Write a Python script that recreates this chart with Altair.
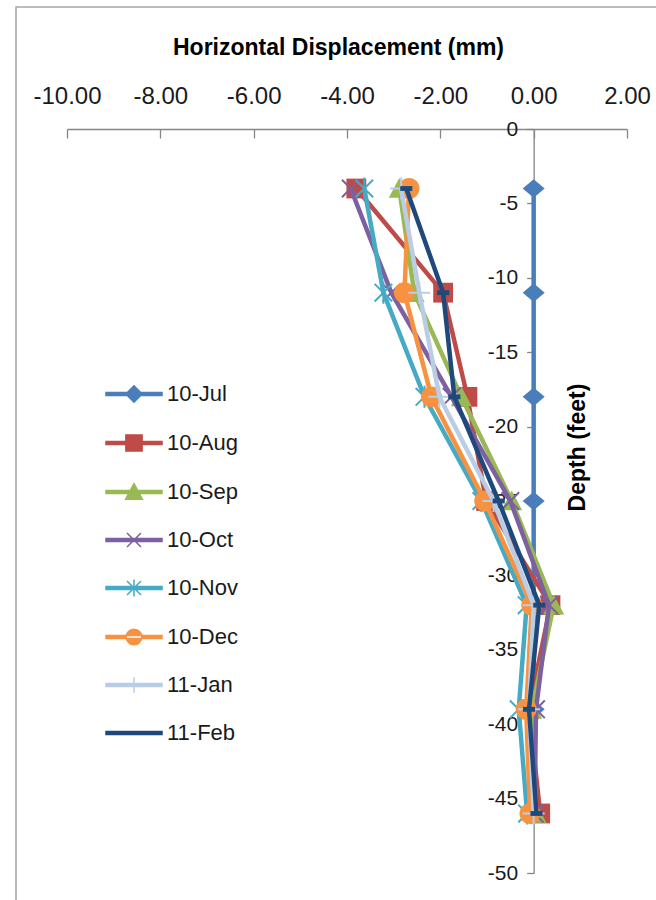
import altair as alt
import pandas as pd

# ---------------- data ----------------
depth = [-4, -11, -18, -25, -32, -39, -46]
series = ["10-Jul", "10-Aug", "10-Sep", "10-Oct", "10-Nov", "10-Dec", "11-Jan", "11-Feb"]
jul = [0.00, 0.00, 0.00, 0.00, 0.00, 0.00, 0.00]
aug = [-3.80, -1.94, -1.42, -1.02, 0.36, -0.10, 0.14]
sep = [-2.88, -2.56, -1.55, -0.47, 0.43, -0.04, 0.05]
oct_ = [-3.92, -3.05, -1.76, -0.50, 0.33, 0.05, 0.02]
nov = [-3.63, -3.22, -2.34, -1.12, -0.15, -0.32, -0.14]
dec = [-2.67, -2.77, -2.19, -1.05, -0.04, -0.16, -0.08]
jan = [-2.84, -2.45, -2.02, -0.86, 0.00, -0.10, 0.00]
feb = [-2.73, -1.94, -1.70, -0.75, 0.12, -0.10, 0.06]
values = [jul, aug, sep, oct_, nov, dec, jan, feb]

x_ticks = [-10, -8, -6, -4, -2, 0, 2]
y_ticks = [0, -5, -10, -15, -20, -25, -30, -35, -40, -45, -50]

# ---------------- styles ----------------
colors = ["#4A7EBB", "#BE4B48", "#98B954", "#7D60A0", "#46AAC5", "#F69240", "#B9CDE5", "#1F497D"]
marker_filled = [True, True, True, False, False, True, False, True]

marker_paths = [
    "M0,-0.85L1,0L0,0.85L-1,0Z",                                   # diamond
    "M-0.9,-0.9L0.9,-0.9L0.9,0.9L-0.9,0.9Z",                       # square
    "M0,-0.95L0.95,0.85L-0.95,0.85Z",                              # triangle
    "M-0.8,-0.8L0.8,0.8M-0.8,0.8L0.8,-0.8",                        # x
    "M-0.8,-0.8L0.8,0.8M-0.8,0.8L0.8,-0.8M0,-1L0,1",               # asterisk
    "M-0.95,0A0.95,0.95 0 1,0 0.95,0A0.95,0.95 0 1,0 -0.95,0Z",    # circle
    "M-1,0L1,0M0,-1L0,1",                                          # plus
    "M-0.55,-0.22L0.55,-0.22L0.55,0.22L-0.55,0.22Z",               # dash
]
line_p = "M-1,-0.057L1,-0.057L1,0.057L-1,0.057Z"
legend_paths = [
    line_p + "M0,-0.29L0.29,0L0,0.29L-0.29,0Z",
    line_p + "M-0.29,-0.29L0.29,-0.29L0.29,0.29L-0.29,0.29Z",
    line_p + "M0,-0.3L0.3,0.26L-0.3,0.26Z",
    line_p + "M-0.25,-0.25L0.25,0.25M-0.25,0.25L0.25,-0.25",
    line_p + "M-0.25,-0.25L0.25,0.25M-0.25,0.25L0.25,-0.25M0,-0.3L0,0.3",
    line_p + "M-0.28,0A0.28,0.28 0 1,0 0.28,0A0.28,0.28 0 1,0 -0.28,0Z",
    line_p + "M-0.28,0L0.28,0M0,-0.28L0,0.28",
    line_p,
]

FONT = "Liberation Sans"
W, H = 560, 744
AX = "#868686"

rows = []
for s, vals in zip(series, values):
    for d, v in zip(depth, vals):
        rows.append({"series": s, "depth": d, "disp": v})
df = pd.DataFrame(rows)

x_scale = alt.Scale(domain=[-10, 2], nice=False, zero=False)
y_scale = alt.Scale(domain=[-50, 0], nice=False, zero=False)
color_scale = alt.Scale(domain=series, range=colors)

minus_fix_x = "(datum.value < 0 ? '-' : '') + format(abs(datum.value), '.2f')"
minus_fix_y = "(datum.value < 0 ? '-' : '') + format(abs(datum.value), 'd')"

top_axis = alt.Axis(
    orient="top", values=x_ticks, labelExpr=minus_fix_x, ticks=False, tickSize=0,
    labelPadding=21, labelFlush=False, labelOverlap=False, grid=False,
    domainColor=AX, domainWidth=1.3,
    labelFontSize=24, labelFont=FONT, labelColor="#1a1a1a",
    title="Horizontal Displacement (mm)", titleFontSize=23, titleFont=FONT,
    titleFontWeight="bold", titlePadding=25, titleColor="#000000",
    titleX=271, titleAlign="center")
tick_axis = alt.Axis(
    orient="bottom", offset=-H, values=x_ticks, labels=False, domain=False,
    ticks=True, tickSize=9, tickColor=AX, tickWidth=1.3, grid=False, title=None)
left_axis = alt.Axis(
    orient="left", offset=-466.67, values=y_ticks, labelExpr=minus_fix_y, grid=False,
    tickSize=7, tickColor=AX, tickWidth=1.3, domainColor=AX, domainWidth=1.3,
    labelFontSize=21, labelFont=FONT, labelColor="#1a1a1a", labelPadding=9,
    labelFlush=False,
    title="Depth (feet)", titleX=44, titleY=318, titleAngle=270, titleAlign="center",
    titleBaseline="middle", titleFontSize=23, titleFont=FONT, titleFontWeight="bold",
    titleColor="#000000")

base = alt.Chart(df)

# legend (drawn from the fill / stroke / shape scales, no marks of its own)
leg = alt.Legend(
    orient="none", legendX=38, legendY=236, title=None, symbolSize=3136,
    symbolStrokeWidth=1.5, labelFontSize=22, labelFont=FONT, labelColor="#1a1a1a",
    rowPadding=8, labelOffset=4, padding=0, symbolOpacity=1,
)
legend_layer = base.transform_filter("false").mark_point(filled=True, opacity=1).encode(
    fill=alt.Fill("series:N", scale=color_scale, legend=leg),
    stroke=alt.Stroke("series:N", scale=color_scale, legend=leg),
    shape=alt.Shape("series:N", scale=alt.Scale(domain=series, range=legend_paths), legend=leg),
)

border = alt.Chart(pd.DataFrame({"k": [0]})).mark_rect(
    fillOpacity=0, stroke="#A6A6A6", strokeWidth=1.5
).encode(
    x=alt.value(-51), x2=alt.value(640), y=alt.value(-122), y2=alt.value(820)
)

layers = [border, legend_layer]
for i, s in enumerate(series):
    sub = base.transform_filter(alt.datum.series == s)
    yenc = alt.Y("depth:Q", scale=y_scale, axis=left_axis) if i == 0 else alt.Y("depth:Q", scale=y_scale)
    ln = sub.mark_line(strokeWidth=4.5).encode(
        x=alt.X("disp:Q", scale=x_scale, axis=top_axis if i == 0 else None),
        y=yenc,
        color=alt.Color("series:N", scale=color_scale, legend=None),
        order=alt.Order("depth:Q", sort="descending"),
    )
    if marker_filled[i]:
        pt_mark = sub.mark_point(filled=True, opacity=1, size=484, strokeWidth=0,
                                 shape=marker_paths[i])
    else:
        pt_mark = sub.mark_point(filled=False, opacity=1, size=484, strokeWidth=2,
                                 shape=marker_paths[i])
    pt = pt_mark.encode(
        x=alt.X("disp:Q", scale=x_scale, axis=tick_axis if i == 0 else None),
        y=alt.Y("depth:Q", scale=y_scale),
        color=alt.Color("series:N", scale=color_scale, legend=None),
    )
    layers += [ln, pt]

chart = alt.layer(*layers).resolve_axis(x="independent").properties(
    width=W, height=H,
    autosize=alt.AutoSizeParams(type="none"),
    padding={"left": 67, "top": 129, "right": 29, "bottom": 27},
    background="white",
).configure_view(stroke=None)

chart.save("out.html", embed_options={"renderer": "svg", "actions": False})
